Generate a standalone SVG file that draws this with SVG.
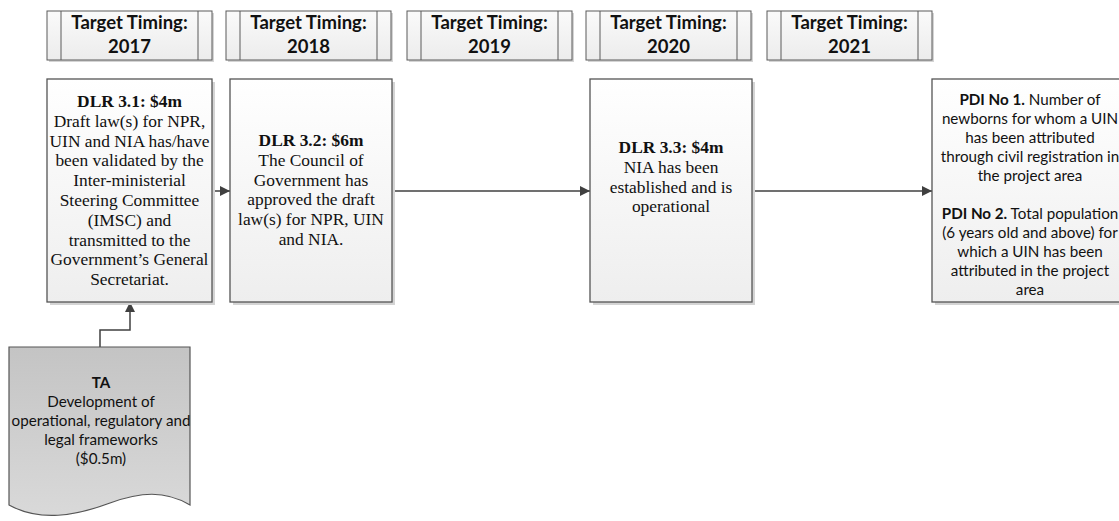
<svg xmlns="http://www.w3.org/2000/svg" width="1119" height="521" viewBox="0 0 1119 521">
<style>
.hdr{fill:url(#gH);stroke:#5a5a5a;stroke-width:1}
.hl{stroke:#5a5a5a;stroke-width:1}
.sh{fill:#d4d4d4}
.box{fill:url(#gB);stroke:#555;stroke-width:1.3}
.ht{font-family:Lato,"Liberation Sans",sans-serif;font-weight:bold;font-size:18.5px;fill:#111;text-anchor:middle}
.st{font-family:"Liberation Serif",serif;font-size:17.4px;fill:#111;text-anchor:middle}
.ct{font-family:Lato,"Liberation Sans",sans-serif;font-size:15.2px;fill:#111;text-anchor:middle}
.b{font-weight:bold}
.con{fill:none;stroke:#404040;stroke-width:1.5}
</style>
<defs>
<linearGradient id="gH" x1="0" y1="0" x2="0" y2="1"><stop offset="0" stop-color="#fafafa"/><stop offset="1" stop-color="#ececec"/></linearGradient>
<linearGradient id="gB" x1="0" y1="0" x2="0" y2="1"><stop offset="0" stop-color="#ffffff"/><stop offset="1" stop-color="#eeeeee"/></linearGradient>
<linearGradient id="gT" x1="0" y1="0" x2="0" y2="1"><stop offset="0" stop-color="#c4c4c4"/><stop offset="1" stop-color="#d9d9d9"/></linearGradient>
<marker id="ar" viewBox="0 0 10 10" refX="10" refY="5" markerWidth="10" markerHeight="10" markerUnits="userSpaceOnUse" orient="auto"><path d="M0,0 L10,5 L0,10 Z" fill="#404040"/></marker>
</defs>

<g id="h2017">
<rect class="sh" x="49" y="13" width="165" height="49"/>
<rect class="hdr" x="47" y="11" width="165" height="49"/>
<line class="hl" x1="61" y1="11" x2="61" y2="60"/><line class="hl" x1="198" y1="11" x2="198" y2="60"/>
<text class="ht" x="129.5" y="29">Target Timing:</text><text class="ht" x="129.5" y="53">2017</text>
</g>
<g id="h2018">
<rect class="sh" x="228" y="13" width="165" height="49"/>
<rect class="hdr" x="226" y="11" width="165" height="49"/>
<line class="hl" x1="240" y1="11" x2="240" y2="60"/><line class="hl" x1="377" y1="11" x2="377" y2="60"/>
<text class="ht" x="308.5" y="29">Target Timing:</text><text class="ht" x="308.5" y="53">2018</text>
</g>
<g id="h2019">
<rect class="sh" x="409" y="13" width="165" height="49"/>
<rect class="hdr" x="407" y="11" width="165" height="49"/>
<line class="hl" x1="421" y1="11" x2="421" y2="60"/><line class="hl" x1="558" y1="11" x2="558" y2="60"/>
<text class="ht" x="489.5" y="29">Target Timing:</text><text class="ht" x="489.5" y="53">2019</text>
</g>
<g id="h2020">
<rect class="sh" x="588" y="13" width="165" height="49"/>
<rect class="hdr" x="586" y="11" width="165" height="49"/>
<line class="hl" x1="600" y1="11" x2="600" y2="60"/><line class="hl" x1="737" y1="11" x2="737" y2="60"/>
<text class="ht" x="668.5" y="29">Target Timing:</text><text class="ht" x="668.5" y="53">2020</text>
</g>
<g id="h2021">
<rect class="sh" x="769" y="13" width="165" height="49"/>
<rect class="hdr" x="767" y="11" width="165" height="49"/>
<line class="hl" x1="781" y1="11" x2="781" y2="60"/><line class="hl" x1="918" y1="11" x2="918" y2="60"/>
<text class="ht" x="849.5" y="29">Target Timing:</text><text class="ht" x="849.5" y="53">2021</text>
</g>

<g id="connectors">
<line class="con" x1="212" y1="191" x2="230" y2="191" marker-end="url(#ar)"/>
<line class="con" x1="392" y1="191" x2="590" y2="191" marker-end="url(#ar)"/>
<line class="con" x1="752" y1="191" x2="932" y2="191" marker-end="url(#ar)"/>
<polyline class="con" points="100,347 100,330 130,330 130,302" marker-end="url(#ar)"/>
</g>

<g id="dlr31">
<rect class="sh" x="50" y="82" width="165" height="223"/>
<rect class="box" x="47" y="79" width="165" height="223"/>
<text class="st" x="129.5" y="107"><tspan class="b">DLR 3.1: $4m</tspan><tspan x="129.5" dy="19.8">Draft law(s) for NPR,</tspan><tspan x="129.5" dy="19.8">UIN and NIA has/have</tspan><tspan x="129.5" dy="19.8">been validated by the</tspan><tspan x="129.5" dy="19.8">Inter-ministerial</tspan><tspan x="129.5" dy="19.8">Steering Committee</tspan><tspan x="129.5" dy="19.8">(IMSC) and</tspan><tspan x="129.5" dy="19.8">transmitted to the</tspan><tspan x="129.5" dy="19.8">Government’s General</tspan><tspan x="129.5" dy="19.8">Secretariat.</tspan></text>
</g>
<g id="dlr32">
<rect class="sh" x="233" y="82" width="162" height="223"/>
<rect class="box" x="230" y="79" width="162" height="223"/>
<text class="st" x="311" y="146"><tspan class="b">DLR 3.2: $6m</tspan><tspan x="311" dy="19.8">The Council of</tspan><tspan x="311" dy="19.8">Government has</tspan><tspan x="311" dy="19.8">approved the draft</tspan><tspan x="311" dy="19.8">law(s) for NPR, UIN</tspan><tspan x="311" dy="19.8">and NIA.</tspan></text>
</g>
<g id="dlr33">
<rect class="sh" x="593" y="82" width="162" height="223"/>
<rect class="box" x="590" y="79" width="162" height="223"/>
<text class="st" x="671" y="153"><tspan class="b">DLR 3.3: $4m</tspan><tspan x="671" dy="19.8">NIA has been</tspan><tspan x="671" dy="19.8">established and is</tspan><tspan x="671" dy="19.8">operational</tspan></text>
</g>
<g id="pdi">
<rect class="sh" x="935" y="82" width="200" height="223"/>
<rect class="box" x="932" y="79" width="200" height="223"/>
<text class="ct" x="1030" y="105"><tspan class="b">PDI No 1.</tspan> Number of<tspan x="1030" dy="19">newborns for whom a UIN</tspan><tspan x="1030" dy="19">has been attributed</tspan><tspan x="1030" dy="19">through civil registration in</tspan><tspan x="1030" dy="19">the project area</tspan><tspan x="1030" dy="38"><tspan class="b">PDI No 2.</tspan> Total population</tspan><tspan x="1030" dy="19">(6 years old and above) for</tspan><tspan x="1030" dy="19">which a UIN has been</tspan><tspan x="1030" dy="19">attributed in the project</tspan><tspan x="1030" dy="19">area</tspan></text>
</g>
<g id="ta">
<path d="M9,347 H190 V505 C165,490 140,492 110,503 C75,516 40,522 9,505 Z" fill="url(#gT)" stroke="#555" stroke-width="1.2"/>
<text class="ct" x="101" y="388"><tspan class="b">TA</tspan><tspan x="101" dy="19">Development of</tspan><tspan x="101" dy="19">operational, regulatory and</tspan><tspan x="101" dy="19">legal frameworks</tspan><tspan x="101" dy="19">($0.5m)</tspan></text>
</g>
</svg>
